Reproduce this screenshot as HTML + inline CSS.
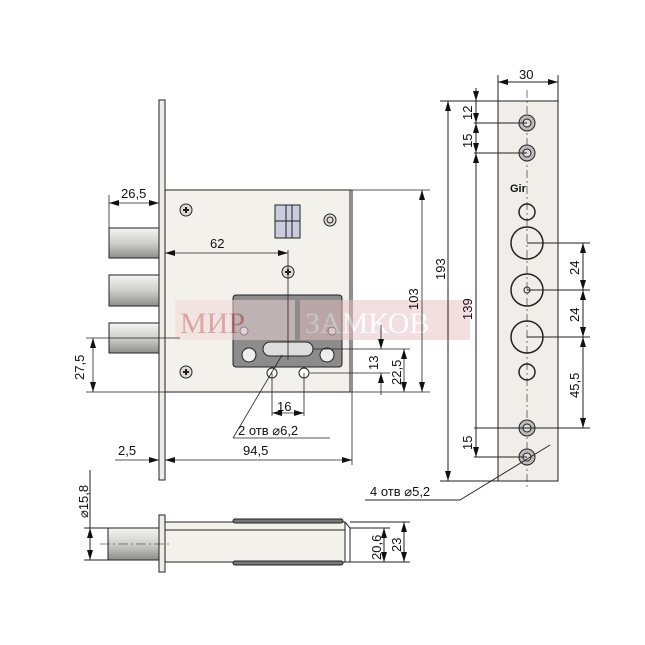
<!DOCTYPE html>
<html><head><meta charset="utf-8"><style>
html,body{margin:0;padding:0;background:#fff}
svg{display:block}
text{font-family:"Liberation Sans",sans-serif;font-size:13px;fill:#111}
</style></head><body>
<svg width="645" height="645" viewBox="0 0 645 645" xmlns="http://www.w3.org/2000/svg">
<defs>
<linearGradient id="bolt" x1="0" y1="0" x2="0" y2="1">
<stop offset="0" stop-color="#f4f4f2"/><stop offset="0.5" stop-color="#cfcfcb"/><stop offset="1" stop-color="#8e8e8a"/></linearGradient>
<marker id="a" markerWidth="10" markerHeight="6" refX="10" refY="3" orient="auto-start-reverse" markerUnits="userSpaceOnUse"><path d="M0,0 L10,3 L0,6 z" fill="#111"/></marker>
</defs>
<g stroke="#222" stroke-width="1" fill="none">
<rect x="159" y="100" width="6" height="380" fill="#eeece6"/>
<rect x="165" y="190" width="185" height="202" fill="#f2f1ec"/>
<line x1="352" y1="190" x2="352" y2="392"/>
<rect x="109" y="228" width="50" height="30" fill="url(#bolt)"/>
<rect x="109" y="275" width="50" height="31" fill="url(#bolt)"/>
<rect x="109" y="323" width="50" height="30" fill="url(#bolt)"/>
<rect x="233" y="295" width="109" height="72" rx="3" fill="#8c8c8c"/>
<rect x="263" y="342" width="50" height="14" rx="7" fill="#ddd"/>
<circle cx="249" cy="355" r="7" fill="#eee"/><circle cx="327" cy="355" r="7" fill="#eee"/>
<circle cx="244" cy="331" r="4" fill="#ccd"/><circle cx="332" cy="331" r="4" fill="#ccd"/>
<rect x="275" y="205" width="25" height="33" fill="#c8ccdd"/>
<line x1="275" y1="221" x2="300" y2="221"/><line x1="286" y1="205" x2="286" y2="238"/><line x1="292" y1="205" x2="292" y2="238"/>
<circle cx="186" cy="210" r="6" fill="#ddd"/><circle cx="186" cy="372" r="6" fill="#ddd"/>
<circle cx="288" cy="272" r="6" fill="#ddd"/><circle cx="330" cy="220" r="6" fill="#ddd"/>
<path d="M183,210h6M186,207v6M183,372h6M186,369v6M285,272h6M288,269v6" stroke-width="2"/>
<circle cx="330" cy="220" r="3"/>
<circle cx="272" cy="373" r="5" fill="#fff"/><circle cx="304" cy="373" r="5" fill="#fff"/>
</g>
<g opacity="0.5">
<rect x="175" y="300" width="120" height="40" fill="#f3d8d8"/>
<rect x="300" y="300" width="170" height="40" fill="#e9c0c0"/>
<text x="180" y="333" style="font-family:'Liberation Serif',serif;font-size:30px;fill:#c06060">МИР</text>
<text x="305" y="333" style="font-family:'Liberation Serif',serif;font-size:30px;fill:#fff">ЗАМКОВ</text>
</g>
<g stroke="#222" stroke-width="0.8" fill="none">
<line x1="109" y1="195" x2="109" y2="228"/>
<line x1="109" y1="203" x2="159" y2="203" marker-start="url(#a)" marker-end="url(#a)"/>
<line x1="165" y1="253" x2="288" y2="253" marker-start="url(#a)" marker-end="url(#a)"/>
<line x1="288" y1="250" x2="288" y2="360"/>
<line x1="86" y1="338" x2="180" y2="338"/><line x1="86" y1="392" x2="165" y2="392"/>
<line x1="93" y1="338" x2="93" y2="392" marker-start="url(#a)" marker-end="url(#a)"/>
<line x1="350" y1="190" x2="430" y2="190"/><line x1="350" y1="392" x2="430" y2="392"/>
<line x1="422" y1="190" x2="422" y2="392" marker-start="url(#a)" marker-end="url(#a)"/>
<line x1="313" y1="349" x2="410" y2="349"/><line x1="310" y1="373" x2="390" y2="373"/>
<line x1="381" y1="325" x2="381" y2="349" marker-end="url(#a)"/>
<line x1="381" y1="395" x2="381" y2="373" marker-end="url(#a)"/>
<line x1="404" y1="349" x2="404" y2="392" marker-start="url(#a)" marker-end="url(#a)"/>
<line x1="272" y1="373" x2="272" y2="416"/><line x1="304" y1="373" x2="304" y2="416"/>
<line x1="272" y1="413" x2="304" y2="413" marker-start="url(#a)" marker-end="url(#a)"/>
<line x1="233" y1="438" x2="330" y2="438"/><line x1="233" y1="438" x2="282" y2="355"/>
<line x1="352" y1="392" x2="352" y2="465"/>
<line x1="115" y1="460" x2="159" y2="460" marker-end="url(#a)"/>
<line x1="165" y1="460" x2="352" y2="460" marker-start="url(#a)" marker-end="url(#a)"/>
</g>
<text x="121" y="198">26,5</text>
<text x="210" y="248">62</text>
<text x="277" y="411">16</text>
<text x="238" y="435">2 отв ⌀6,2</text>
<text x="118" y="455">2,5</text>
<text x="243" y="455">94,5</text>
<text transform="translate(84,380) rotate(-90)">27,5</text>
<text transform="translate(418,310) rotate(-90)">103</text>
<text transform="translate(378,370) rotate(-90)">13</text>
<text transform="translate(401,385) rotate(-90)">22,5</text>
<g stroke="#222" stroke-width="1" fill="none">
<rect x="498" y="101" width="60" height="380" fill="#f1eeea"/>
<line x1="527" y1="90" x2="527" y2="490" stroke-dasharray="8,3,2,3" stroke-width="0.6"/>
<circle cx="527" cy="123" r="8" fill="#bbb"/><circle cx="527" cy="123" r="4" fill="#ddd"/>
<circle cx="527" cy="153" r="8" fill="#bbb"/><circle cx="527" cy="153" r="4" fill="#ddd"/>
<circle cx="527" cy="212" r="8" stroke-width="1.5"/>
<circle cx="527" cy="243" r="16" stroke-width="1.5"/>
<circle cx="527" cy="290" r="16" stroke-width="1.5"/><circle cx="527" cy="290" r="3"/>
<circle cx="527" cy="337" r="16" stroke-width="1.5"/>
<circle cx="527" cy="372" r="8" stroke-width="1.5"/>
<circle cx="527" cy="428" r="8" fill="#bbb"/><circle cx="527" cy="428" r="4" fill="#ddd"/>
<circle cx="527" cy="457" r="8" fill="#bbb"/><circle cx="527" cy="457" r="4" fill="#ddd"/>
<line x1="498" y1="75" x2="498" y2="101"/><line x1="558" y1="75" x2="558" y2="101"/>
<line x1="498" y1="82" x2="558" y2="82" marker-start="url(#a)" marker-end="url(#a)"/>
<line x1="440" y1="101" x2="498" y2="101"/><line x1="440" y1="481" x2="498" y2="481"/>
<line x1="448" y1="101" x2="448" y2="481" marker-start="url(#a)" marker-end="url(#a)"/>
<line x1="474" y1="123" x2="527" y2="123"/><line x1="474" y1="153" x2="527" y2="153"/>
<line x1="474" y1="428" x2="527" y2="428"/><line x1="474" y1="457" x2="527" y2="457"/>
<line x1="476" y1="88" x2="476" y2="101" marker-end="url(#a)"/>
<line x1="476" y1="101" x2="476" y2="123" marker-end="url(#a)"/>
<line x1="476" y1="123" x2="476" y2="153" marker-start="url(#a)" marker-end="url(#a)"/>
<line x1="476" y1="153" x2="476" y2="457" marker-start="url(#a)" marker-end="url(#a)"/>
<line x1="527" y1="243" x2="590" y2="243"/><line x1="527" y1="290" x2="590" y2="290"/>
<line x1="527" y1="337" x2="590" y2="337"/><line x1="527" y1="428" x2="590" y2="428"/>
<line x1="583" y1="243" x2="583" y2="290" marker-start="url(#a)" marker-end="url(#a)"/>
<line x1="583" y1="290" x2="583" y2="337" marker-start="url(#a)" marker-end="url(#a)"/>
<line x1="583" y1="337" x2="583" y2="428" marker-start="url(#a)" marker-end="url(#a)"/>
<line x1="365" y1="500" x2="460" y2="500"/><line x1="460" y1="500" x2="550" y2="445"/>
</g>
<text x="519" y="79">30</text>
<text x="510" y="192" style="font-size:11px;font-weight:bold">Gir</text>
<text transform="translate(445,280) rotate(-90)">193</text>
<text transform="translate(472,320) rotate(-90)">139</text>
<text transform="translate(472,120) rotate(-90)">12</text>
<text transform="translate(472,148) rotate(-90)">15</text>
<text transform="translate(472,450) rotate(-90)">15</text>
<text transform="translate(579,275) rotate(-90)">24</text>
<text transform="translate(579,322) rotate(-90)">24</text>
<text transform="translate(579,398) rotate(-90)">45,5</text>
<text x="370" y="496">4 отв ⌀5,2</text>
<g stroke="#222" stroke-width="1" fill="none">
<rect x="159" y="515" width="6" height="57" fill="#eeece6"/>
<rect x="108" y="528" width="51" height="32" fill="url(#bolt)"/>
<rect x="165" y="522" width="180" height="40" fill="#f2f1ec"/>
<line x1="165" y1="530" x2="345" y2="530"/>
<path d="M345,522 L350,528 L350,562 L345,562"/>
<rect x="233" y="519" width="110" height="4" rx="2" fill="#777"/>
<rect x="233" y="561" width="110" height="4" rx="2" fill="#777"/>
<line x1="100" y1="544" x2="170" y2="544" stroke-dasharray="10,3,2,3" stroke-width="0.6"/>
<line x1="84" y1="528" x2="108" y2="528"/><line x1="84" y1="560" x2="108" y2="560"/>
<line x1="90" y1="528" x2="90" y2="560" marker-start="url(#a)" marker-end="url(#a)"/>
<line x1="90" y1="470" x2="90" y2="528"/>
<line x1="350" y1="522" x2="410" y2="522"/><line x1="350" y1="562" x2="410" y2="562"/>
<line x1="350" y1="528" x2="390" y2="528"/>
<line x1="384" y1="528" x2="384" y2="562" marker-start="url(#a)" marker-end="url(#a)"/>
<line x1="404" y1="522" x2="404" y2="562" marker-start="url(#a)" marker-end="url(#a)"/>
</g>
<text transform="translate(88,518) rotate(-90)">⌀15,8</text>
<text transform="translate(381,560) rotate(-90)">20,6</text>
<text transform="translate(401,552) rotate(-90)">23</text>
</svg>
</body></html>
